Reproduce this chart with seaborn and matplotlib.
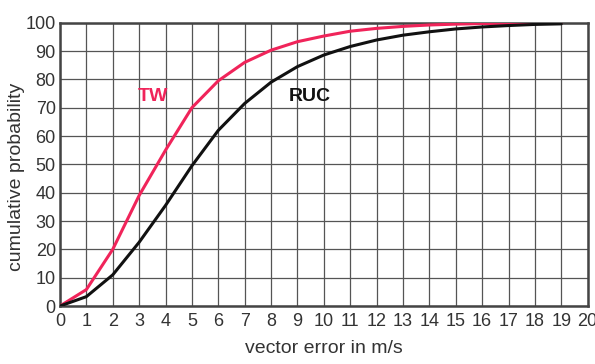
import numpy as np
import pandas as pd
import matplotlib
matplotlib.use("Agg")
import matplotlib.pyplot as plt
import seaborn as sns
from matplotlib.ticker import MultipleLocator

# Cumulative probability (%) of vector wind error, by error magnitude (m/s)
error_ms = list(range(0, 20))
tw_cum = [0, 5.8, 20, 39, 55, 70, 79.5, 86, 90.3, 93.3, 95.3, 97, 98, 98.7, 99.2, 99.5, 99.7, 99.8, 99.9, 100]
ruc_cum = [0, 3.3, 11, 22.5, 35.5, 49.5, 62, 71.5, 79, 84.5, 88.6, 91.6, 93.9, 95.6, 96.8, 97.8, 98.5, 99, 99.4, 99.6]
series_names = ["TW", "RUC"]
x_ticks = list(range(0, 21))
y_ticks = list(range(0, 101, 10))

df = pd.DataFrame({
    "error": error_ms * 2,
    "prob": tw_cum + ruc_cum,
    "series": ["TW"] * len(error_ms) + ["RUC"] * len(error_ms),
})

sns.set_style("white")
plt.rcParams["font.family"] = ["Liberation Sans", "DejaVu Sans"]

fig = plt.figure(figsize=(5.95, 3.64), dpi=100)
ax = fig.add_axes([0.1008, 0.1593, 0.8869, 0.7783])

palette = {"TW": "#f0245a", "RUC": "#111111"}
sns.lineplot(data=df, x="error", y="prob", hue="series", palette=palette,
             linewidth=2.2, legend=False, ax=ax, zorder=3)

ax.set_xlim(0, 20)
ax.set_ylim(0, 100)
ax.set_xticks(x_ticks)
ax.set_yticks(y_ticks)
ax.set_xticklabels([str(v) for v in x_ticks])
ax.set_yticklabels([str(v) for v in y_ticks])
ax.xaxis.set_minor_locator(MultipleLocator(0.5))
ax.yaxis.set_minor_locator(MultipleLocator(5))

ax.grid(True, which="major", color="#555555", linewidth=0.9)
ax.set_axisbelow(True)
ax.tick_params(which="major", length=0, pad=3, labelsize=13, labelcolor="#333333")
ax.tick_params(which="minor", direction="in", length=8, width=0.8, color="#8a8a8a")
ax.tick_params(axis="x", pad=5)

for s in ax.spines.values():
    s.set_visible(True)
    s.set_color("#444444")
    s.set_linewidth(1.8)

ax.set_xlabel("vector error in m/s", fontsize=14, color="#333333", labelpad=7)
ax.set_ylabel("cumulative probability", fontsize=14, color="#333333")
ax.yaxis.set_label_coords(-0.066, 0.455)

ax.text(3.53, 73.8, "TW", color=palette["TW"], fontsize=14, fontweight="bold",
        ha="center", va="center")
ax.text(9.48, 73.8, "RUC", color=palette["RUC"], fontsize=14, fontweight="bold",
        ha="center", va="center")

fig.savefig("out.png", dpi=100)
